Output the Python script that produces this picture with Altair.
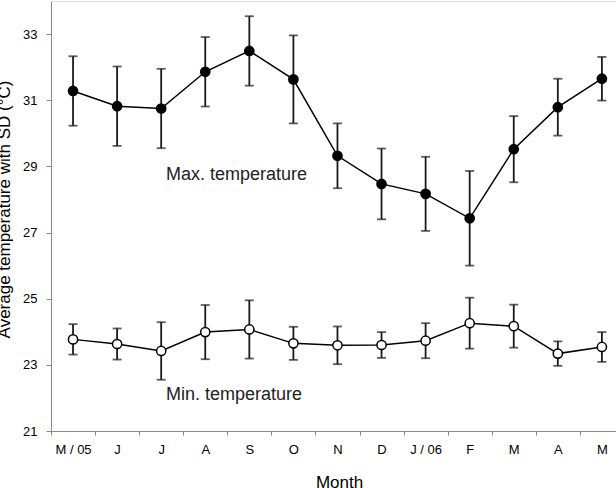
import altair as alt
import pandas as pd

months = ["M / 05", "J", "J", "A", "S", "O", "N", "D", "J / 06", "F", "M", "A", "M"]
max_mean = [31.28, 30.82, 30.75, 31.86, 32.49, 31.63, 29.32, 28.47, 28.17, 27.43, 29.52, 30.79, 31.65]
max_sd = [1.05, 1.20, 1.20, 1.05, 1.05, 1.33, 0.98, 1.07, 1.12, 1.43, 1.00, 0.86, 0.66]
min_mean = [23.77, 23.63, 23.42, 23.99, 24.07, 23.65, 23.59, 23.60, 23.73, 24.26, 24.17, 23.34, 23.54]
min_sd = [0.46, 0.47, 0.87, 0.82, 0.88, 0.50, 0.57, 0.39, 0.53, 0.77, 0.65, 0.37, 0.45]
series_names = ["Max. temperature", "Min. temperature"]
y_ticks = [21, 23, 25, 27, 29, 31, 33]

rows = []
for name, means, sds in [(series_names[0], max_mean, max_sd), (series_names[1], min_mean, min_sd)]:
    for i, (m, s) in enumerate(zip(means, sds)):
        rows.append({"idx": i, "month": months[i], "series": name, "mean": m,
                     "lo": m - s, "hi": m + s})
df = pd.DataFrame(rows)

ann = pd.DataFrame({"idx": [2.11, 2.11], "val": [28.74, 22.09], "text": series_names})

W, H = 565, 430
xdom = [-0.5, 12.32]
step = W / (xdom[1] - xdom[0])
FONT = "Liberation Sans"
AXC = "#8a8a8a"

label_arr = "[" + ",".join("'" + m + "'" for m in months) + "]"

xscale = alt.Scale(domain=xdom, nice=False, zero=False)
yscale = alt.Scale(domain=[21, 34], nice=False, zero=False)

x = alt.X("idx:Q", scale=xscale, axis=alt.Axis(
    values=list(range(len(months))), labelExpr=label_arr + "[datum.value]",
    tickOffset=-step / 2, labelOffset=step / 2, tickSize=4, labelPadding=8,
    title="Month", titleFontSize=17, titleFontWeight="normal", titlePadding=18,
    titleX=288, labelFontSize=13, grid=False))
y = alt.Y("mean:Q", scale=yscale, axis=alt.Axis(
    values=y_ticks, tickSize=5, labelPadding=9, labelFontSize=13, grid=False,
    title="Average temperature with SD (°C)", titleFontSize=17, titleFontWeight="normal",
    titleX=-42, titleY=208, titleBaseline="alphabetic", titleAlign="center"))

base = alt.Chart(df)

bars = base.mark_rule(color="#1a1a1a", strokeWidth=1.8).encode(
    x=x, y=alt.Y("lo:Q", scale=yscale), y2="hi:Q")
cap_hi = base.mark_tick(color="#1a1a1a", orient="horizontal", size=9, thickness=1.8).encode(
    x="idx:Q", y=alt.Y("hi:Q", scale=yscale))
cap_lo = base.mark_tick(color="#1a1a1a", orient="horizontal", size=9, thickness=1.8).encode(
    x="idx:Q", y=alt.Y("lo:Q", scale=yscale))
line = base.mark_line(color="black", strokeWidth=1.5).encode(
    x="idx:Q", y=y, detail="series:N")
pts = base.mark_point(filled=False, size=85, strokeWidth=1.5, opacity=1, shape="circle").encode(
    x="idx:Q", y="mean:Q",
    fill=alt.Fill("series:N", scale=alt.Scale(domain=series_names, range=["black", "white"]), legend=None),
    stroke=alt.value("black"))
text = alt.Chart(ann).mark_text(align="left", baseline="middle", fontSize=18, font=FONT, color="#222222").encode(
    x="idx:Q", y="val:Q", text="text:N")

chart = alt.layer(bars, cap_hi, cap_lo, line, pts, text).properties(
    width=W, height=H,
    autosize=alt.AutoSizeParams(type="none"),
    padding={"left": 51, "top": 1, "right": 0, "bottom": 57},
).configure_view(stroke=None).configure_axis(
    domainColor=AXC, tickColor=AXC, domainWidth=1.2, tickWidth=1.2,
    labelColor="#333333", titleColor="#222222", labelFont=FONT, titleFont=FONT,
).configure(background="white")

chart.save("out.html", embed_options={"renderer": "svg", "actions": False})
